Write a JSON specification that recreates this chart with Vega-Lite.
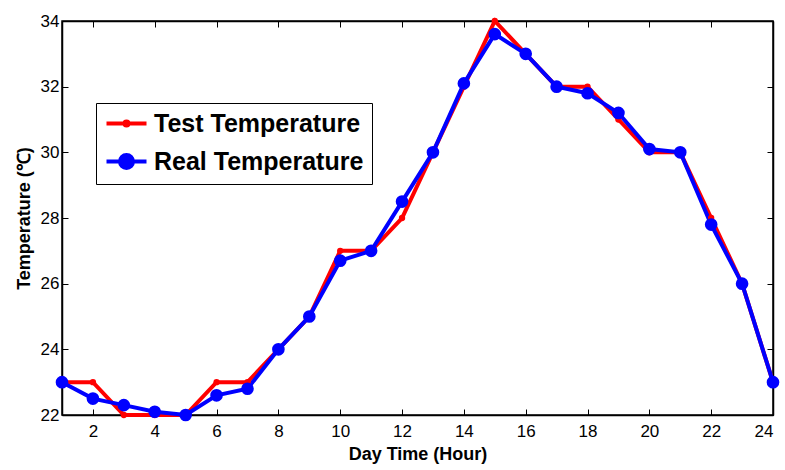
{
  "$schema": "https://vega.github.io/schema/vega-lite/v6.json",
  "width": 711,
  "height": 394,
  "autosize": "none",
  "padding": {"left": 62, "top": 21, "right": 12, "bottom": 55},
  "background": "white",
  "config": {
    "view": {"stroke": "black", "strokeWidth": 1.5},
    "font": "Liberation Sans"
  },
  "data": {
    "values": [
      {"hour": 1, "temp": 23, "series": "Test Temperature"},
      {"hour": 2, "temp": 23, "series": "Test Temperature"},
      {"hour": 3, "temp": 22, "series": "Test Temperature"},
      {"hour": 4, "temp": 22, "series": "Test Temperature"},
      {"hour": 5, "temp": 22, "series": "Test Temperature"},
      {"hour": 6, "temp": 23, "series": "Test Temperature"},
      {"hour": 7, "temp": 23, "series": "Test Temperature"},
      {"hour": 8, "temp": 24, "series": "Test Temperature"},
      {"hour": 9, "temp": 25, "series": "Test Temperature"},
      {"hour": 10, "temp": 27, "series": "Test Temperature"},
      {"hour": 11, "temp": 27, "series": "Test Temperature"},
      {"hour": 12, "temp": 28, "series": "Test Temperature"},
      {"hour": 13, "temp": 30, "series": "Test Temperature"},
      {"hour": 14, "temp": 32, "series": "Test Temperature"},
      {"hour": 15, "temp": 34, "series": "Test Temperature"},
      {"hour": 16, "temp": 33, "series": "Test Temperature"},
      {"hour": 17, "temp": 32, "series": "Test Temperature"},
      {"hour": 18, "temp": 32, "series": "Test Temperature"},
      {"hour": 19, "temp": 31, "series": "Test Temperature"},
      {"hour": 20, "temp": 30, "series": "Test Temperature"},
      {"hour": 21, "temp": 30, "series": "Test Temperature"},
      {"hour": 22, "temp": 28, "series": "Test Temperature"},
      {"hour": 23, "temp": 26, "series": "Test Temperature"},
      {"hour": 24, "temp": 23, "series": "Test Temperature"},
      {"hour": 1, "temp": 23, "series": "Real Temperature"},
      {"hour": 2, "temp": 22.5, "series": "Real Temperature"},
      {"hour": 3, "temp": 22.3, "series": "Real Temperature"},
      {"hour": 4, "temp": 22.1, "series": "Real Temperature"},
      {"hour": 5, "temp": 22, "series": "Real Temperature"},
      {"hour": 6, "temp": 22.6, "series": "Real Temperature"},
      {"hour": 7, "temp": 22.8, "series": "Real Temperature"},
      {"hour": 8, "temp": 24, "series": "Real Temperature"},
      {"hour": 9, "temp": 25, "series": "Real Temperature"},
      {"hour": 10, "temp": 26.7, "series": "Real Temperature"},
      {"hour": 11, "temp": 27, "series": "Real Temperature"},
      {"hour": 12, "temp": 28.5, "series": "Real Temperature"},
      {"hour": 13, "temp": 30, "series": "Real Temperature"},
      {"hour": 14, "temp": 32.1, "series": "Real Temperature"},
      {"hour": 15, "temp": 33.6, "series": "Real Temperature"},
      {"hour": 16, "temp": 33.0, "series": "Real Temperature"},
      {"hour": 17, "temp": 32.0, "series": "Real Temperature"},
      {"hour": 18, "temp": 31.8, "series": "Real Temperature"},
      {"hour": 19, "temp": 31.2, "series": "Real Temperature"},
      {"hour": 20, "temp": 30.1, "series": "Real Temperature"},
      {"hour": 21, "temp": 30.0, "series": "Real Temperature"},
      {"hour": 22, "temp": 27.8, "series": "Real Temperature"},
      {"hour": 23, "temp": 26, "series": "Real Temperature"},
      {"hour": 24, "temp": 23, "series": "Real Temperature"}
    ]
  },
  "layer": [
    {
      "encoding": {
        "x": {
          "field": "hour", "type": "quantitative",
          "scale": {"domain": [1, 24], "nice": false, "zero": false},
          "axis": {
            "title": "Day Time (Hour)", "titleFontSize": 18, "titleFontWeight": "bold", "titleColor": "black",
            "titlePadding": 6,
            "values": [2, 4, 6, 8, 10, 12, 14, 16, 18, 20, 22, 24],
            "labelFontSize": 17, "labelColor": "black", "labelPadding": 14,
            "tickSize": -6, "tickColor": "black", "domainColor": "black", "domainWidth": 1.5,
            "grid": false
          }
        },
        "y": {
          "field": "temp", "type": "quantitative",
          "scale": {"domain": [22, 34], "nice": false, "zero": false},
          "axis": {
            "title": "Temperature (℃)", "titleFontSize": 18, "titleFontWeight": "bold", "titleColor": "black",
            "titlePadding": 7,
            "values": [22, 24, 26, 28, 30, 32, 34],
            "labelFontSize": 17, "labelColor": "black", "labelPadding": 9,
            "tickSize": -6, "tickColor": "black", "domainColor": "black", "domainWidth": 1.5,
            "grid": false
          }
        },
        "color": {
          "field": "series", "type": "nominal",
          "scale": {"domain": ["Test Temperature", "Real Temperature"], "range": ["#ff0000", "#0000ff"]},
          "legend": {
            "title": null, "orient": "none", "legendX": 34, "legendY": 82,
            "strokeColor": "black", "fillColor": "white", "padding": 8,
            "labelFontSize": 25, "labelFontWeight": "bold", "labelColor": "black", "labelLimit": 500,
            "symbolStrokeWidth": 4, "symbolSize": 400,
            "rowPadding": 10, "labelOffset": 25,
            "encode": {
              "symbols": {
                "update": {
                  "shape": {"signal": "datum.value === 'Real Temperature' ? 'M-1,0H3M1.65,0A0.65,0.65 0 1,1 0.35,0A0.65,0.65 0 1,1 1.65,0Z' : 'M-1,0H3M1.2,0A0.2,0.2 0 1,1 0.8,0A0.2,0.2 0 1,1 1.2,0Z'"},
                  "fill": {"signal": "datum.value === 'Real Temperature' ? '#0000ff' : '#ff0000'"},
                  "stroke": {"signal": "datum.value === 'Real Temperature' ? '#0000ff' : '#ff0000'"},
                  "strokeWidth": {"value": 4},
                  "opacity": {"value": 1},
                  "fillOpacity": {"value": 1}
                }
              }
            }
          }
        }
      },
      "layer": [
        {
          "mark": {"type": "line", "strokeWidth": 4},
          "encoding": {"order": {"field": "hour"}}
        },
        {
          "transform": [{"filter": "datum.series === 'Test Temperature'"}],
          "mark": {"type": "point", "filled": true, "opacity": 1, "size": 40}
        },
        {
          "transform": [{"filter": "datum.series === 'Real Temperature'"}],
          "mark": {"type": "point", "filled": true, "opacity": 1, "size": 160}
        }
      ]
    },
    {
      "mark": {"type": "rule", "opacity": 0},
      "encoding": {
        "x": {"field": "hour", "type": "quantitative",
          "scale": {"domain": [1, 24], "nice": false, "zero": false},
          "axis": {"orient": "top", "title": null, "labels": false, "labelOpacity": 0,
            "values": [2, 4, 6, 8, 10, 12, 14, 16, 18, 20, 22, 24],
            "tickSize": -6, "tickColor": "black", "domainColor": "black", "domainWidth": 1.5, "grid": false}},
        "y": {"field": "temp", "type": "quantitative",
          "scale": {"domain": [22, 34], "nice": false, "zero": false},
          "axis": {"orient": "right", "title": null, "labels": false, "labelOpacity": 0,
            "values": [22, 24, 26, 28, 30, 32, 34],
            "tickSize": -6, "tickColor": "black", "domainColor": "black", "domainWidth": 1.5, "grid": false}}
      }
    }
  ],
  "resolve": {"axis": {"x": "independent", "y": "independent"}}
}
